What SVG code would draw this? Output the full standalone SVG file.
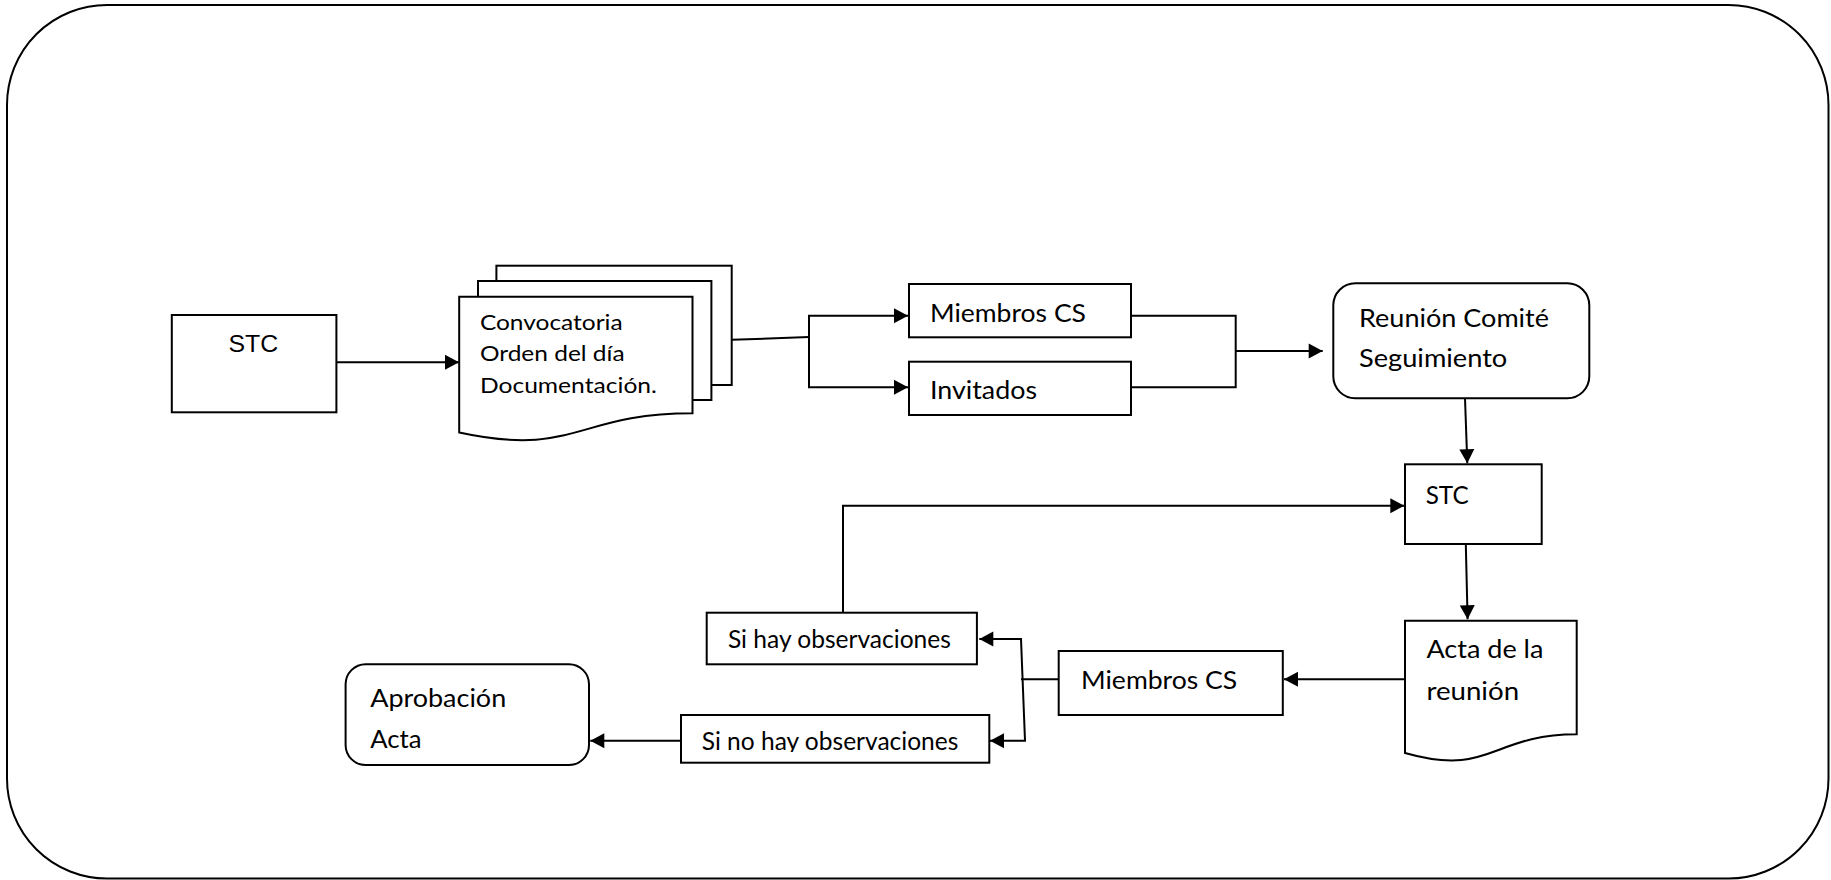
<svg xmlns="http://www.w3.org/2000/svg" width="1831" height="880" viewBox="0 0 1831 880">
  <style>
    .shape { fill: #ffffff; stroke: #000000; stroke-width: 2; }
    .frame { fill: #ffffff; stroke: #000000; stroke-width: 2; }
    .wire { fill: none; stroke: #000000; stroke-width: 2; }
    .arrow { fill: none; stroke: #000000; stroke-width: 2; marker-end: url(#head); }
    .lbl { font-family: Lato, "Open Sans", "Noto Sans", sans-serif; font-size: 25px; fill: #000000; }
    .lbl-sm { font-family: Lato, "Open Sans", "Noto Sans", sans-serif; font-size: 21px; fill: #000000; }
    .lbl-arial { font-family: "Liberation Sans", Arial, sans-serif; font-size: 24px; fill: #000000; }
  </style>
  <defs>
    <marker id="head" markerUnits="userSpaceOnUse" markerWidth="16" markerHeight="16" viewBox="0 0 16 16" refX="15" refY="8" orient="auto">
      <path d="M1,0.5 L15,8 L1,15.5 Z" fill="#000000"/>
    </marker>
    <clipPath id="clip-no-obs">
      <rect x="683" y="717" width="304" height="35"/>
    </clipPath>
  </defs>

  <!-- page frame -->
  <rect class="frame" x="7" y="5" width="1821.5" height="873.5" rx="100" ry="100"/>

  <!-- connectors -->
  <g id="connectors">
    <line class="arrow" x1="336.4" y1="362.3" x2="459" y2="362.3"/>
    <line class="wire" x1="731.7" y1="339.8" x2="809" y2="337"/>
    <line class="wire" x1="809" y1="315.7" x2="809" y2="387.3"/>
    <line class="arrow" x1="808" y1="315.7" x2="908" y2="315.7"/>
    <line class="arrow" x1="808" y1="387.3" x2="908" y2="387.3"/>
    <polyline class="wire" points="1131,315.7 1235.7,315.7 1235.7,387.3 1131,387.3"/>
    <line class="arrow" x1="1235.7" y1="351" x2="1322.7" y2="351"/>
    <line class="arrow" x1="1465" y1="398.3" x2="1467.3" y2="463.3"/>
    <line class="arrow" x1="1465.8" y1="544" x2="1467.6" y2="619.3"/>
    <line class="arrow" x1="1405" y1="679.3" x2="1284" y2="679.3"/>
    <line class="wire" x1="1058.7" y1="679.3" x2="1021" y2="679.3"/>
    <line class="wire" x1="1021" y1="639" x2="1025" y2="740.7"/>
    <line class="arrow" x1="1022" y1="639" x2="979.3" y2="639"/>
    <line class="arrow" x1="1026" y1="740.7" x2="990" y2="740.7"/>
    <polyline class="arrow" points="843,612.7 843,505.7 1404.3,505.7"/>
    <line class="arrow" x1="681" y1="740.7" x2="590.3" y2="740.7"/>
  </g>

  <!-- first STC -->
  <g id="stc-start">
    <rect class="shape" x="171.8" y="315" width="164.6" height="97.3"/>
    <text class="lbl-arial" x="253.3" y="351.7" text-anchor="middle" textLength="49.7" lengthAdjust="spacingAndGlyphs">STC</text>
  </g>

  <!-- stacked documents -->
  <g id="documents">
    <rect class="shape" x="496.4" y="265.7" width="235.3" height="119.3"/>
    <rect class="shape" x="478" y="281" width="233.4" height="119"/>
    <path class="shape" d="M459.2,296.7 H692.5 V413.3 C575.9,413.3 575.9,457.7 459.2,432.5 Z"/>
    <text class="lbl-sm" x="479.9" y="329.8" textLength="142.7" lengthAdjust="spacingAndGlyphs">Convocatoria</text>
    <text class="lbl-sm" x="479.9" y="361.3" textLength="144.7" lengthAdjust="spacingAndGlyphs">Orden del día</text>
    <text class="lbl-sm" x="479.9" y="392.7" textLength="177" lengthAdjust="spacingAndGlyphs">Documentación.</text>
  </g>

  <g id="miembros-cs">
    <rect class="shape" x="909" y="284" width="222" height="53.3"/>
    <text class="lbl" x="930" y="322.3" textLength="156" lengthAdjust="spacingAndGlyphs">Miembros CS</text>
  </g>

  <g id="invitados">
    <rect class="shape" x="909" y="361.7" width="222" height="53.3"/>
    <text class="lbl" x="930" y="399" textLength="107" lengthAdjust="spacingAndGlyphs">Invitados</text>
  </g>

  <g id="reunion">
    <rect class="shape" x="1333.3" y="283.3" width="256" height="115" rx="22" ry="22"/>
    <text class="lbl" x="1359" y="326.7" textLength="190" lengthAdjust="spacingAndGlyphs">Reunión Comité</text>
    <text class="lbl" x="1359" y="367.3" textLength="148.3" lengthAdjust="spacingAndGlyphs">Seguimiento</text>
  </g>

  <g id="stc-review">
    <rect class="shape" x="1405" y="464.3" width="136.7" height="79.7"/>
    <text class="lbl" x="1425.7" y="504" textLength="43" lengthAdjust="spacingAndGlyphs">STC</text>
  </g>

  <g id="acta-reunion">
    <path class="shape" d="M1405,620.7 H1576.7 V734.3 C1490.9,734.3 1490.9,777.5 1405,753 Z"/>
    <text class="lbl" x="1426.4" y="658.3" textLength="117" lengthAdjust="spacingAndGlyphs">Acta de la</text>
    <text class="lbl" x="1426.4" y="700" textLength="92.7" lengthAdjust="spacingAndGlyphs">reunión</text>
  </g>

  <g id="miembros-cs-review">
    <rect class="shape" x="1058.7" y="651" width="224.1" height="64"/>
    <text class="lbl" x="1081" y="689.3" textLength="156.3" lengthAdjust="spacingAndGlyphs">Miembros CS</text>
  </g>

  <g id="si-hay">
    <rect class="shape" x="706.7" y="612.7" width="270.2" height="51.6"/>
    <text class="lbl" x="727.9" y="648.3" textLength="223" lengthAdjust="spacingAndGlyphs">Si hay observaciones</text>
  </g>

  <g id="si-no-hay">
    <rect class="shape" x="681" y="715" width="308.3" height="47.7"/>
    <text class="lbl" x="701.7" y="750" textLength="256.7" lengthAdjust="spacingAndGlyphs" clip-path="url(#clip-no-obs)">Si no hay observaciones</text>
  </g>

  <g id="aprobacion">
    <rect class="shape" x="345.6" y="664.3" width="243.4" height="100.7" rx="20" ry="20"/>
    <text class="lbl" x="370.2" y="706.7" textLength="136" lengthAdjust="spacingAndGlyphs">Aprobación</text>
    <text class="lbl" x="370.2" y="748.3" textLength="51.3" lengthAdjust="spacingAndGlyphs">Acta</text>
  </g>
</svg>
